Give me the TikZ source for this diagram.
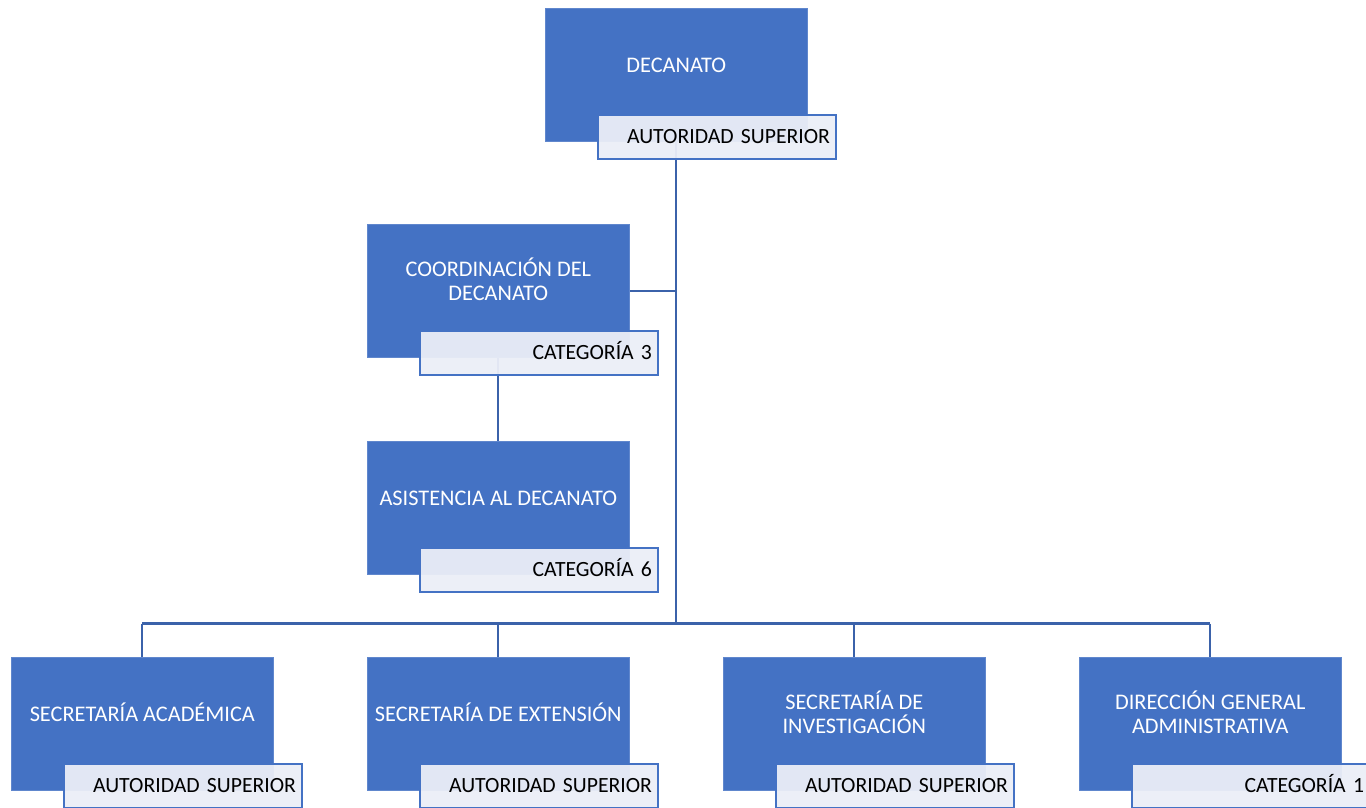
\documentclass[tikz,border=0pt]{standalone}
\usepackage{fontspec}
\setmainfont{Carlito}
\usetikzlibrary{calc}
\definecolor{unitblue}{HTML}{4472C4}
\definecolor{tagfill}{HTML}{EBEEF7}
\definecolor{wire}{HTML}{3B62AA}
\pgfdeclarelayer{wires}
\pgfsetlayers{wires,main}

\tikzset{
  unitbox/.style={rectangle, fill=unitblue, draw=unitblue!85!white, line width=0.6pt,
    minimum width=262pt, minimum height=133pt, inner sep=0pt, anchor=north west},
  unittext/.style={text=white, align=center, font=\fontsize{22.3}{24}\selectfont,
    inner sep=0pt, text depth=0pt},
  oneline/.style={text height=14.3pt},
  twoline/.style={text height=38.3pt},
  tagbox/.style={rectangle, fill=tagfill, fill opacity=0.95, text opacity=1,
    draw=unitblue, line width=2pt, anchor=north west,
    minimum width=238pt, minimum height=44pt, inner xsep=6pt, inner ysep=0pt,
    text width=226pt, align=right, text height=13.9pt, text depth=0pt,
    font=\fontsize{21.7}{24}\selectfont},
  wireline/.style={draw=wire, line width=2.3pt}
}

% one organisational unit: blue box, its title and its category tag
\newcommand\orgunit[6]{%
  \node[unitbox] (#1) at (#2,#3) {};
  \node[unittext,#4] (#1-t) at ($(#1.north)+(0,57)$) {#5};
  \node[tagbox] (#1-l) at ($(#1.north west)+(52,106)$) {#6};
}

\begin{document}
\begin{tikzpicture}[x=1pt,y=-1pt]
\useasboundingbox (0,0) rectangle (1366,807);

\orgunit{dec}{545}{8}{oneline}{DECANATO}{AUTORIDAD SUPERIOR}
\orgunit{coord}{367}{224}{twoline}{COORDINACIÓN DEL\\DECANATO}{CATEGORÍA 3}
\orgunit{asist}{367}{441}{oneline}{ASISTENCIA AL DECANATO}{CATEGORÍA 6}
\orgunit{sa}{11}{657}{oneline}{SECRETARÍA ACADÉMICA}{AUTORIDAD SUPERIOR}
\orgunit{se}{367}{657}{oneline}{SECRETARÍA DE EXTENSIÓN}{AUTORIDAD SUPERIOR}
\orgunit{si}{723}{657}{twoline}{SECRETARÍA DE\\INVESTIGACIÓN}{AUTORIDAD SUPERIOR}
\orgunit{dga}{1079}{657}{twoline}{DIRECCIÓN GENERAL\\ADMINISTRATIVA}{CATEGORÍA 1}

\coordinate (hub) at ($(dec.south)+(0,482)$);

\begin{pgfonlayer}{wires}
  % trunk from the deanship down to the bus
  \draw[wireline] (dec.south) -- (hub);
  \draw[wireline] (coord.east) -- (coord.east -| hub);
  \draw[wireline] (coord.south) -- (asist.north);
  % bus and drops to the secretariats
  \draw[wireline] (hub -| sa.north) -- (hub -| dga.north);
  \draw[wireline] (hub -| sa.north) -- (sa.north);
  \draw[wireline] (hub -| se.north) -- (se.north);
  \draw[wireline] (hub -| si.north) -- (si.north);
  \draw[wireline] (hub -| dga.north) -- (dga.north);
\end{pgfonlayer}
\end{tikzpicture}
\end{document}
